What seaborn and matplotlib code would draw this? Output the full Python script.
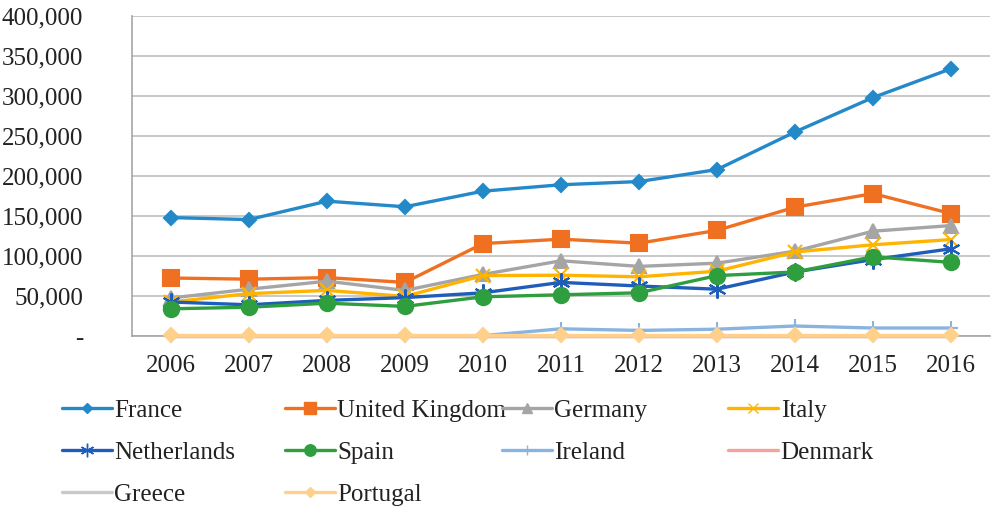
import seaborn as sns
import pandas as pd
import numpy as np
import matplotlib.pyplot as plt
from matplotlib.ticker import FuncFormatter, MultipleLocator
from matplotlib.lines import Line2D

# Data
years = [2006, 2007, 2008, 2009, 2010, 2011, 2012, 2013, 2014, 2015, 2016]
france = [148000, 145500, 168500, 161500, 181000, 189000, 193000, 208000, 255000, 298000, 334000]
uk = [72500, 71000, 73000, 67000, 115500, 121000, 116000, 132000, 161000, 178000, 153000]
germany = [47500, 58500, 68500, 57000, 77000, 94000, 87000, 91000, 106000, 131000, 138000]
italy = [42500, 53000, 57000, 49500, 75500, 76000, 74000, 81000, 105000, 114000, 120500]
netherlands = [42500, 39000, 44500, 48000, 54000, 67000, 62500, 58500, 80000, 95500, 109000]
spain = [34000, 36000, 41000, 37000, 49000, 51500, 54000, 75500, 80000, 99000, 92000]
ireland = [0, 0, 0, 0, 500, 9000, 7000, 8500, 12500, 10000, 10000]
denmark = [300, 300, 300, 300, 300, 300, 300, 300, 300, 300, 300]
greece = [200, 200, 200, 200, 200, 200, 200, 200, 200, 200, 200]
portugal = [800, 800, 800, 800, 800, 800, 800, 800, 800, 800, 800]

countries = ['France', 'United Kingdom', 'Germany', 'Italy', 'Netherlands',
             'Spain', 'Ireland', 'Denmark', 'Greece', 'Portugal']
series = [france, uk, germany, italy, netherlands, spain, ireland, denmark, greece, portugal]

df = pd.DataFrame({
    'Year': np.tile(np.arange(len(years)), len(countries)),
    'Country': np.repeat(countries, len(years)),
    'Value': np.concatenate(series),
})

# styles: colour, marker, marker size
styles = {
    'France': ('#2389C9', 'D', 7),
    'United Kingdom': ('#F07022', 's', 11),
    'Germany': ('#A5A5A5', '^', 10),
    'Italy': ('#FFB400', 'x', 10),
    'Netherlands': ('#1F5DBA', (6, 2, 0), 13),
    'Spain': ('#2E9E3E', 'o', 11),
    'Ireland': ('#8AB4E0', '+', 10),
    'Denmark': ('#F4A39B', None, 0),
    'Greece': ('#C9C9C9', None, 0),
    'Portugal': ('#FFD08A', 'D', 7),
}

sns.set_style('white')
plt.rcParams['font.family'] = ['Liberation Serif', 'DejaVu Serif']
fig = plt.figure(figsize=(9.92, 5.13), dpi=100)
ax = fig.add_axes([0.133, 0.345, 0.865, 0.624])

# later series sit on top, like the spreadsheet
for c in countries:
    col, mk, ms = styles[c]
    sub = df[df['Country'] == c]
    sns.lineplot(data=sub, x='Year', y='Value', ax=ax, color=col, linewidth=2.4,
                 marker=mk, markersize=ms, markeredgecolor=col, markeredgewidth=1.5,
                 legend=False, zorder=3, clip_on=False)

ax.set_xlim(-0.5, len(years) - 0.5)
ax.set_ylim(0, 400000)
ax.set_xticks(range(len(years)))
ax.set_xticklabels([str(y) for y in years])
ax.set_xticks(np.arange(-0.5, len(years)), minor=True)
ax.tick_params(axis='x', which='major', length=0, pad=14, labelsize=18, colors='#222222')
ax.tick_params(axis='x', which='minor', length=5, width=1, color='#A6A6A6', direction='out')
ax.yaxis.set_major_locator(MultipleLocator(50000))
ax.yaxis.set_major_formatter(FuncFormatter(lambda v, p: '-' if v == 0 else f'{int(v):,}'))
ax.tick_params(axis='y', length=5, width=1, color='#A6A6A6', direction='out', pad=30,
               labelsize=18, colors='#222222')
ax.grid(axis='y', color='#BFBFBF', linewidth=1.2)
ax.set_axisbelow(True)
ax.set_xlabel('')
ax.set_ylabel('')
for s in ['top', 'right']:
    ax.spines[s].set_visible(False)
for s in ['left', 'bottom']:
    ax.spines[s].set_color('#A6A6A6')
    ax.spines[s].set_linewidth(1.2)

# legend: four fixed columns like the spreadsheet legend
columns = [['France', 'Netherlands', 'Greece'],
           ['United Kingdom', 'Spain', 'Portugal'],
           ['Germany', 'Ireland'],
           ['Italy', 'Denmark']]
col_x = [0.062, 0.287, 0.506, 0.734]
for cx, names in zip(col_x, columns):
    handles = []
    for n in names:
        col, mk, ms = styles[n]
        handles.append(Line2D([0], [0], color=col, linewidth=2.4, marker=mk,
                              markersize=ms * 0.75, markeredgecolor=col))
    leg = fig.legend(handles=handles, labels=names, loc='upper left',
                     bbox_to_anchor=(cx, 0.222), frameon=False, fontsize=18,
                     handlelength=2.0, handletextpad=0.1, labelspacing=0.78,
                     borderaxespad=0, borderpad=0)
    for t in leg.get_texts():
        t.set_color('#222222')

fig.savefig('out.png', dpi=100)
